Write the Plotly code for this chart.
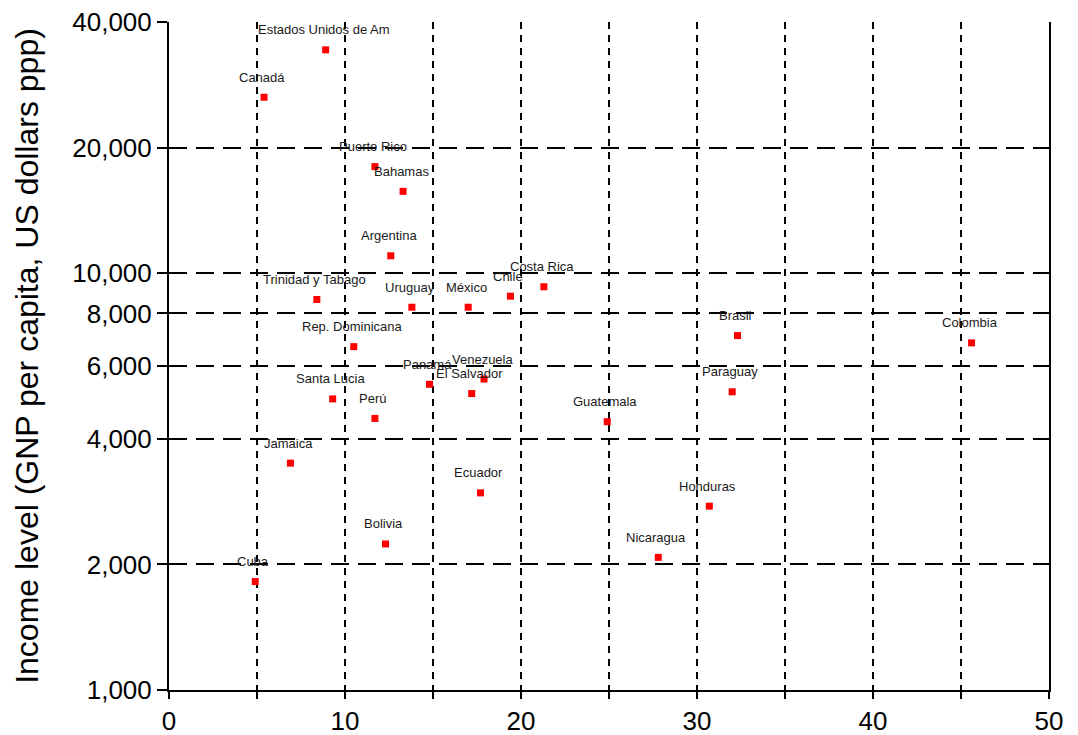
import numpy as np
import plotly.graph_objects as go

countries = ["Estados Unidos de Am", "Canadá", "Puerto Rico", "Bahamas", "Argentina",
             "Trinidad y Tabago", "Uruguay", "México", "Chile", "Costa Rica",
             "Rep. Dominicana", "Panamá", "Venezuela", "El Salvador", "Santa Lucia",
             "Perú", "Jamaica", "Ecuador", "Bolivia", "Cuba", "Brasil", "Colombia",
             "Paraguay", "Guatemala", "Honduras", "Nicaragua"]
x_vals = [8.9, 5.4, 11.7, 13.3, 12.6, 8.4, 13.8, 17.0, 19.4, 21.3, 10.5, 14.8, 17.9,
          17.2, 9.3, 11.7, 6.9, 17.7, 12.3, 4.9, 32.3, 45.6, 32.0, 24.9, 30.7, 27.8]
income = [34300, 26400, 18000, 15700, 11000, 8640, 8280, 8280, 8800, 9270, 6660, 5410,
          5570, 5140, 4990, 4480, 3500, 2970, 2240, 1820, 7080, 6800, 5190, 4400,
          2760, 2080]

y_ticks = [1000, 2000, 4000, 6000, 8000, 10000, 20000, 40000]
y_ticktext = ["1,000", "2,000", "4,000", "6,000", "8,000", "10,000", "20,000", "40,000"]
x_ticks = [0, 5, 10, 15, 20, 25, 30, 35, 40, 45, 50]
x_ticktext = ["0", "", "10", "", "20", "", "30", "", "40", "", "50"]

FONT = "Liberation Sans, Arial, sans-serif"

fig = go.Figure()
fig.add_trace(go.Scatter(
    x=x_vals, y=income, mode="markers",
    marker=dict(symbol="square", size=7, color="#ff0000", line=dict(width=0)),
    hoverinfo="text", text=countries, showlegend=False,
))

for name, xv, yv in zip(countries, x_vals, income):
    fig.add_annotation(
        x=xv, y=np.log10(yv), xref="x", yref="y", text=name, showarrow=False,
        xanchor="center", yanchor="middle", xshift=-2, yshift=20,
        font=dict(family=FONT, size=13, color="#1a1a1a"),
    )

fig.update_layout(
    width=1078, height=735,
    margin=dict(l=169, r=29, t=22, b=45),
    paper_bgcolor="white", plot_bgcolor="white",
    font=dict(family=FONT, color="black"),
)
fig.update_xaxes(
    range=[0, 50], tickvals=x_ticks, ticktext=x_ticktext, automargin=False,
    showline=True, linecolor="black", linewidth=2, mirror=False,
    ticks="outside", ticklen=7, tickwidth=2, tickcolor="black",
    tickfont=dict(family=FONT, size=26, color="black"),
    showgrid=True, gridcolor="black", gridwidth=2, griddash="7px,6px",
    zeroline=False,
)
fig.update_yaxes(
    type="log", range=[3, np.log10(40000)], tickvals=y_ticks, ticktext=y_ticktext,
    automargin=False,
    showline=True, linecolor="black", linewidth=2, mirror=True,
    ticks="outside", ticklen=10, tickwidth=2, tickcolor="black",
    tickfont=dict(family=FONT, size=26, color="black"),
    showgrid=True, gridcolor="black", gridwidth=2, griddash="18px,9px",
    zeroline=False,
    title=dict(text="Income level (GNP per capita, US dollars ppp)",
               font=dict(family=FONT, size=32, color="black"), standoff=24),
)

fig.write_html("out.html", config={"displayModeBar": False},
               post_script="document.body.style.margin='0';document.body.style.overflow='hidden';")
